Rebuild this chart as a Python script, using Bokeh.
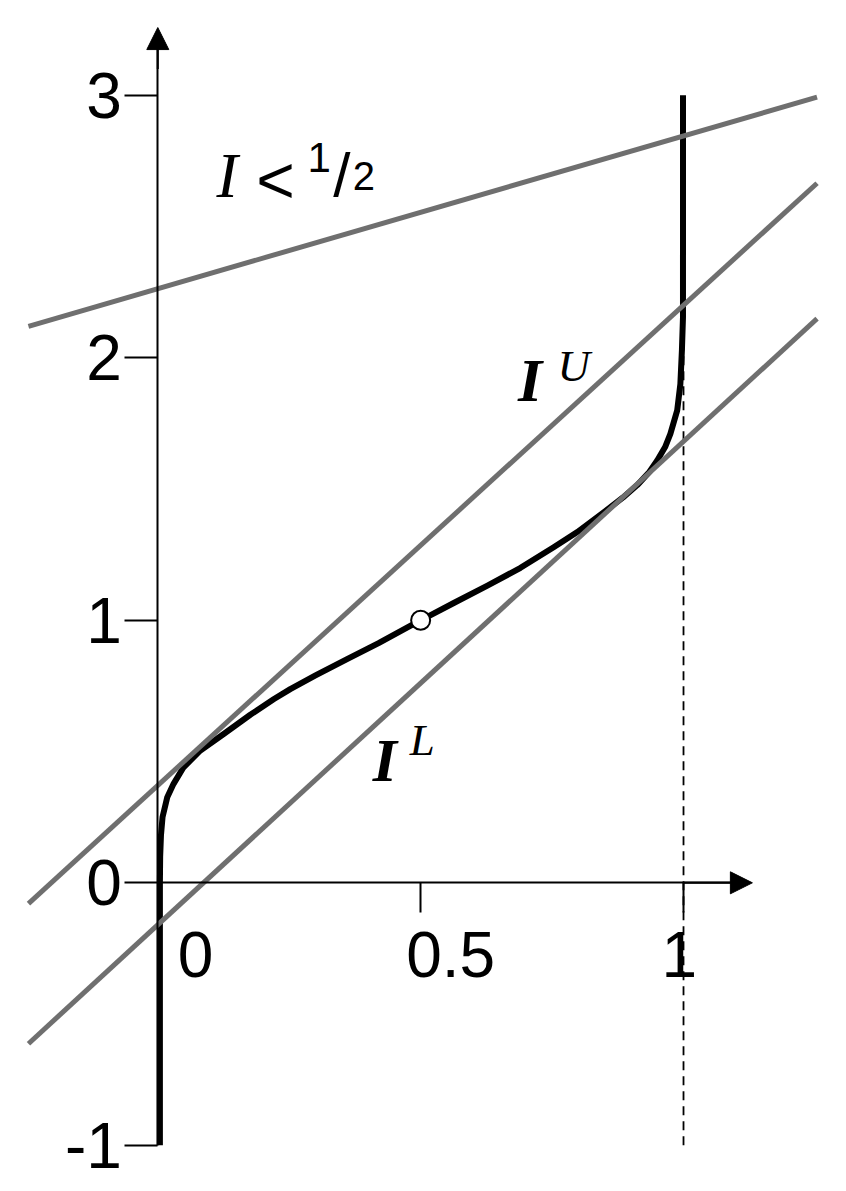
from bokeh.plotting import figure
from bokeh.models import Range1d, LinearAxis, FixedTicker, Arrow, NormalHead
from bokeh.core.properties import value
from bokeh.embed import file_html
from bokeh.resources import INLINE

# ---- data ----
curve_x = [0.004, 0.004, 0.004, 0.0045, 0.006, 0.009, 0.018, 0.030, 0.049, 0.081, 0.126, 0.176,
           0.221, 0.252, 0.300, 0.360, 0.420, 0.481, 0.500, 0.519, 0.563, 0.627, 0.690, 0.753,
           0.798, 0.850, 0.885, 0.912, 0.935, 0.950, 0.965, 0.975, 0.988, 0.994, 0.997, 0.999, 0.999]
curve_y = [-1.000, -0.500, 0.000, 0.100, 0.180, 0.250, 0.326, 0.377, 0.440, 0.504, 0.568, 0.640,
           0.700, 0.738, 0.790, 0.852, 0.913, 0.980, 1.000, 1.020, 1.066, 1.132, 1.200, 1.278,
           1.336, 1.414, 1.468, 1.515, 1.565, 1.609, 1.660, 1.710, 1.800, 1.900, 2.030, 2.155, 3.000]

line_x = [-0.246, 1.254]
half_y = [2.120, 2.993]      # I < 1/2
upper_y = [-0.079, 2.665]    # I^U
lower_y = [-0.613, 2.149]    # I^L

mid_x = [0.5]
mid_y = [1.0]

y_ticks = [-1, 0, 1, 2, 3]
y_tick_labels = ["-1", "0", "1", "2", "3"]
x_ticks = [0.5, 1.0]
x_label_pos = [0.072, 0.557, 0.992]
x_label_text = ["0", "0.5", "1"]

dash_x = [1.0, 1.0]
dash_y = [-1.0, 3.0]

GRAY = "#6f6f6f"
SANS = "Liberation Sans"
SERIF = "Liberation Serif"
TSHIFT = 0.088  # baseline correction for text glyphs

p = figure(width=830, height=1183, x_range=Range1d(-0.2992, 1.2796), y_range=Range1d(-1.1455, 3.3611),
           output_backend="svg", toolbar_location=None, min_border=0,
           x_axis_location=None, y_axis_location=None, outline_line_color=None)
p.grid.visible = False
p.background_fill_color = "white"
p.border_fill_color = "white"

# axes
yax = LinearAxis(fixed_location=0, ticker=FixedTicker(ticks=y_ticks), bounds=(-1, 3.2),
                 major_label_overrides={t: l for t, l in zip(y_ticks, y_tick_labels)},
                 major_tick_out=33, major_tick_in=0, minor_tick_out=0, minor_tick_in=0,
                 axis_line_width=2, major_tick_line_width=2,
                 major_label_text_font=SANS, major_label_text_font_size="64px",
                 major_label_standoff=3, major_label_text_color="black")
p.add_layout(yax, "left")
xax = LinearAxis(fixed_location=0, ticker=FixedTicker(ticks=x_ticks), bounds=(0, 1.1),
                 major_label_overrides={t: "" for t in x_ticks},
                 major_tick_out=30, major_tick_in=0, minor_tick_out=0, minor_tick_in=0,
                 axis_line_width=2, major_tick_line_width=2)
p.add_layout(xax, "below")

p.add_layout(Arrow(end=NormalHead(size=22, fill_color="black", line_color="black", line_width=1),
                   x_start=0, y_start=3.1, x_end=0, y_end=3.258, line_width=2))
p.add_layout(Arrow(end=NormalHead(size=22, fill_color="black", line_color="black", line_width=1),
                   x_start=1.0, y_start=0, x_end=1.131, y_end=0, line_width=2))

p.text(x=x_label_pos, y=[-0.36 + TSHIFT] * 3, text=x_label_text, text_font=value(SANS),
       text_font_size=value("64px"), text_align="center", text_baseline="alphabetic", text_color="black")

# dashed vertical at x = 1
p.line(dash_x, dash_y, line_color="black", line_width=1.8, line_dash="9 6")

# curve
p.line(curve_x, curve_y, line_color="black", line_width=6, line_join="round")

# gray lines
for ys in (half_y, upper_y, lower_y):
    p.line(line_x, ys, line_color=GRAY, line_width=5)

p.scatter(mid_x, mid_y, size=19, fill_color="white", line_color="black", line_width=2)

# labels
def lab(x, y, t, font, size, style="normal"):
    p.text(x=[x], y=[y + TSHIFT], text=[t], text_font=value(font), text_font_size=value(size),
           text_font_style=style, text_align="center", text_baseline="alphabetic", text_color="black")

lab(0.132, 2.607, "I", SERIF, "64px", "italic")
lab(0.224, 2.590, "<", SANS, "66px")
lab(0.307, 2.676, "1", SANS, "42px")
lab(0.350, 2.611, "/", SANS, "62px")
lab(0.392, 2.603, "2", SANS, "40px")

lab(0.708, 1.826, "I", SERIF, "62px", "bold italic")
lab(0.791, 1.880, "U", SERIF, "45px", "italic")
lab(0.432, 0.378, "I", SERIF, "62px", "bold italic")
lab(0.503, 0.455, "L", SERIF, "45px", "italic")

open("out.html", "w").write(file_html(p, INLINE))
